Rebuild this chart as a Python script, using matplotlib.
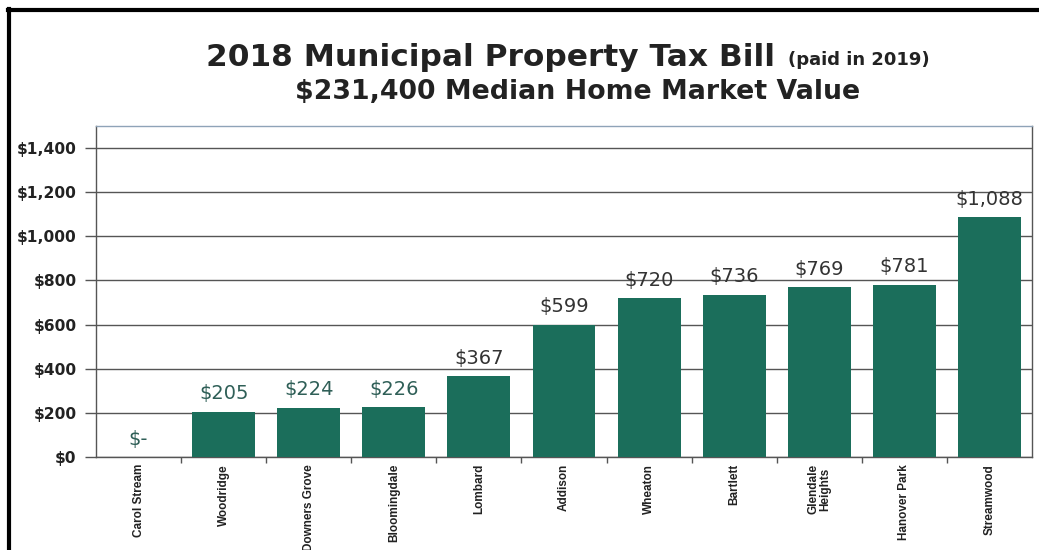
import matplotlib
matplotlib.use("Agg")
import matplotlib.pyplot as plt
from matplotlib.lines import Line2D
from matplotlib.ticker import FuncFormatter, FixedLocator

categories = ["Carol Stream", "Woodridge", "Downers Grove", "Bloomingdale", "Lombard",
              "Addison", "Wheaton", "Bartlett", "Glendale\nHeights", "Hanover Park", "Streamwood"]
values = [0, 205, 224, 226, 367, 599, 720, 736, 769, 781, 1088]
value_labels = ["$-", "$205", "$224", "$226", "$367", "$599", "$720", "$736", "$769", "$781", "$1,088"]
yticks = [0, 200, 400, 600, 800, 1000, 1200, 1400]

bar_color = "#1b6e5b"
grid_color = "#555555"

fig = plt.figure(figsize=(10.39, 5.5), dpi=100)
fig.patch.set_facecolor("white")
ax = fig.add_axes([96/1039, 1-457/550, (1032-96)/1039, (457-126)/550])

x = list(range(len(categories)))
ax.bar(x, values, width=0.74, color=bar_color, zorder=3)
ax.set_xlim(-0.5, len(categories)-0.5)
ax.set_ylim(0, 1500)

ax.yaxis.set_major_locator(FixedLocator(yticks))
ax.yaxis.set_major_formatter(FuncFormatter(lambda v, p: "${:,.0f}".format(v)))
ax.grid(axis="y", color=grid_color, linewidth=1.0, zorder=0)
ax.tick_params(axis="y", length=8, width=1.0, color=grid_color, pad=6)
for lab in ax.get_yticklabels():
    lab.set_fontfamily("DejaVu Sans")
    lab.set_fontweight("bold")
    lab.set_fontsize(11.2)
    lab.set_color("#222222")

ax.set_xticks(x)
ax.set_xticklabels(categories, rotation=90, fontsize=8.5, fontweight="bold",
                   family="Liberation Sans", color="#222222",
                   linespacing=1.0)
ax.tick_params(axis="x", length=0, pad=5)
ax.set_xticks([i + 0.5 for i in x[:-1]], minor=True)
ax.tick_params(axis="x", which="minor", length=4, color=grid_color, width=1.0)

for s in ax.spines.values():
    s.set_color(grid_color)
    s.set_linewidth(1.0)
ax.spines["top"].set_color("#8fa3b8")

label_colors = ["#2f5f57"] * 4 + ["#333333"] * 7
for xi, v, t, c in zip(x, values, value_labels, label_colors):
    ax.annotate(t, (xi, v), xytext=(0, 6), textcoords="offset points",
                ha="center", va="bottom", fontsize=14, color=c,
                family="DejaVu Sans", zorder=4)

# Title
fig.text(775/1039, 1-58/550, "2018 Municipal Property Tax Bill", ha="right", va="center",
         fontsize=22.5, fontweight="bold", color="#222222", family="DejaVu Sans")
fig.text(788/1039, 1-60/550, "(paid in 2019)", ha="left", va="center",
         fontsize=13, fontweight="bold", color="#222222", family="DejaVu Sans")
fig.text(578/1039, 1-92/550, "$231,400 Median Home Market Value", ha="center", va="center",
         fontsize=19.3, fontweight="bold", color="#222222", family="DejaVu Sans")

# Outer frame
fig.add_artist(Line2D([9/1039, 9/1039], [0, 1-9/550], transform=fig.transFigure,
                      color="black", linewidth=3))
fig.add_artist(Line2D([8/1039, 1], [1-10/550, 1-10/550], transform=fig.transFigure,
                      color="black", linewidth=3))

fig.savefig("out.png", dpi=100)
